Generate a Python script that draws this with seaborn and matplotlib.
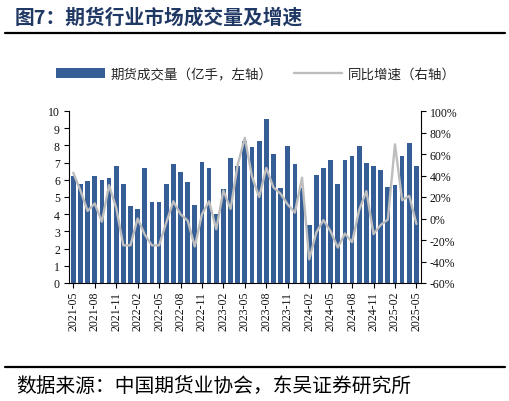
import numpy as np
import pandas as pd
import matplotlib
matplotlib.use("Agg")
import matplotlib.pyplot as plt
import seaborn as sns
from matplotlib.patches import Patch
from matplotlib.lines import Line2D
from matplotlib.ticker import FuncFormatter, MultipleLocator

months = pd.date_range("2021-05-01", "2025-05-01", freq="MS").strftime("%Y-%m").tolist()

volume = [6.23, 5.75, 5.95, 6.23, 5.99, 6.08, 6.82, 5.75, 4.46, 4.32,
          6.68, 4.73, 4.73, 5.73, 6.89, 6.47, 5.88, 4.54, 7.05, 6.66,
          4.02, 5.45, 7.29, 6.78, 8.27, 7.92, 8.27, 9.52, 7.50, 5.54,
          7.94, 6.94, 5.54, 3.35, 6.29, 6.71, 7.13, 5.77, 7.13, 7.38,
          7.98, 6.98, 6.81, 6.58, 5.56, 5.67, 7.38, 8.12, 6.81]

growth = [42.5, 26, 7, 14, -3, 31, 10, -25, -25, 0,
          -15, -25, -25, -4, 16, 4, -2, -26, 4, 16,
          -10, 26, 9, 50, 75, 39, 20, 47, 29, 23,
          13, 5.5, 38, -38, -13, -1.5, -12, -27, -14, -22,
          8, 25.5, -14.5, -6, -1, 69, 17, 21, -5]

title = "图7：期货行业市场成交量及增速"
bar_label = "期货成交量（亿手，左轴）"
line_label = "同比增速（右轴）"
source = "数据来源：中国期货业协会，东吴证券研究所"

BAR_C = "#355E96"
LINE_C = "#BDBDBD"
TITLE_C = "#1F3864"
CJK = ["Noto Sans CJK SC", "DejaVu Sans"]

sns.set_theme(style="white")
plt.rcParams["font.family"] = ["Liberation Serif", "Noto Sans CJK SC", "DejaVu Sans"]
plt.rcParams["axes.unicode_minus"] = False

W, H = 510, 402
fig = plt.figure(figsize=(W / 100, H / 100), dpi=100)
ax = fig.add_axes([69 / W, 1 - 284 / H, (420.7 - 69) / W, (284 - 112) / H])

df = pd.DataFrame({"month": months, "volume": volume,
                   "growth": np.array(growth) / 100.0, "pos": np.arange(len(months))})

sns.barplot(data=df, x="month", y="volume", ax=ax, color=BAR_C, saturation=1,
            width=0.66, edgecolor="none")
ax2 = ax.twinx()
sns.lineplot(data=df, x="pos", y="growth", ax=ax2, color=LINE_C, linewidth=1.7,
             sort=False)

n = len(months)
ax.set_xlim(-0.6, n - 1 + 0.6)
ax2.set_xlim(-0.6, n - 1 + 0.6)
ax.set_ylim(0, 10)
ax2.set_ylim(-0.6, 1.0)
ax.yaxis.set_major_locator(MultipleLocator(1))
ax2.yaxis.set_major_locator(MultipleLocator(0.2))
ax2.yaxis.set_major_formatter(FuncFormatter(lambda v, p: f"{round(v * 100):d}%"))

tick_pos = list(range(0, n, 3))
ax.set_xticks(tick_pos)
ax.set_xticklabels([months[i] for i in tick_pos], rotation=90)
ax.set_xlabel("")
ax.set_ylabel("")
ax2.set_xlabel("")
ax2.set_ylabel("")

for a in (ax, ax2):
    for s in a.spines.values():
        s.set_color("black")
        s.set_linewidth(0.8)
    a.spines["top"].set_visible(False)
    a.grid(False)
ax.spines["right"].set_visible(False)
ax2.spines["left"].set_visible(False)
ax2.spines["bottom"].set_visible(False)

ax.tick_params(axis="x", which="major", direction="out", length=3.5, width=0.8,
               color="black", labelsize=8.5, pad=2, bottom=True)
ax.tick_params(axis="y", direction="out", length=3.5, width=0.8, color="black",
               labelsize=8.5, pad=3, left=True)
ax2.tick_params(axis="y", direction="out", length=3.5, width=0.8, color="black",
                labelsize=8.5, pad=3, right=True)
for lab in ax.get_xticklabels() + ax.get_yticklabels() + ax2.get_yticklabels():
    lab.set_family(["Liberation Serif"])
    lab.set_color("#111111")

# Title and rules
fig.text(15 / W, 1 - 18 / H, title, fontsize=14.2, fontweight="bold", color=TITLE_C,
         va="center", ha="left", family=CJK)
fig.add_artist(Line2D([5 / W, 505 / W], [1 - 34 / H, 1 - 34 / H], color="black",
                      linewidth=1.6, transform=fig.transFigure))
fig.add_artist(Line2D([5 / W, 505 / W], [1 - 368 / H, 1 - 368 / H], color="black",
                      linewidth=1.6, transform=fig.transFigure))
fig.text(16 / W, 1 - 387 / H, source, fontsize=14.2, color="black", va="center", ha="left",
         family=CJK)

handles = [Patch(facecolor=BAR_C, edgecolor="none"),
           Line2D([0], [0], color=LINE_C, linewidth=1.7)]
leg = fig.legend(handles, [bar_label, line_label], loc="center",
                 bbox_to_anchor=(256 / W, 1 - 75 / H), ncol=2, frameon=False,
                 handlelength=3.6, handleheight=0.8, columnspacing=1.6,
                 handletextpad=0.4, prop={"family": CJK, "size": 9.7})

fig.savefig("out.png", dpi=100)
